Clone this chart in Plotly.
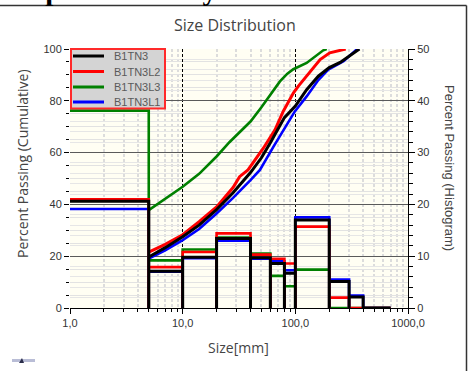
import plotly.graph_objects as go

# ---- data -------------------------------------------------------------
series_names = ["B1TN3", "B1TN3L2", "B1TN3L3", "B1TN3L1"]
series_colors = ["#000000", "#ff0000", "#008000", "#0000ff"]

# histogram bin edges [mm]
bin_edges = [1, 5, 10, 20, 40, 60, 80, 100, 200, 300, 400, 700]

# percent retained per bin (right axis)
hist_b1tn3 = [20.6, 7.1, 9.8, 13.4, 9.7, 8.6, 6.7, 17.0, 5.1, 2.1, 0.0]
hist_b1tn3l2 = [21.0, 7.9, 10.8, 14.4, 10.3, 9.5, 8.6, 15.7, 2.0, 0.0, 0.0]
hist_b1tn3l3 = [38.1, 9.2, 11.3, 13.6, 10.5, 6.2, 4.2, 7.4, 0.0, 0.0, 0.0]
hist_b1tn3l1 = [19.1, 7.0, 9.6, 13.0, 9.5, 9.0, 7.3, 17.5, 5.5, 2.4, 0.0]

# cumulative passing curves (left axis)
cum_size_b1tn3 = [5, 7, 10, 14, 20, 28, 40, 50, 60, 70, 80, 100, 126, 160, 200, 250, 300, 350, 370]
cum_b1tn3 = [19.7, 23.3, 27.5, 32.0, 38.0, 44.5, 52.3, 58.0, 63.8, 69.0, 73.5, 78.0, 84.3, 89.5, 92.8, 94.8, 97.2, 99.5, 100.0]

cum_size_b1tn3l2 = [5, 7, 10, 14, 20, 28, 32, 38, 52, 66, 78, 96, 106, 126, 166, 202, 250, 280]
cum_b1tn3l2 = [21.6, 24.6, 28.3, 33.3, 39.0, 46.5, 50.7, 53.3, 61.7, 68.8, 75.9, 83.0, 85.6, 89.5, 95.9, 98.5, 99.6, 100.0]

cum_size_b1tn3l3 = [5, 7, 10, 14, 20, 26, 32, 40, 50, 60, 73, 85, 96, 126, 150, 177, 190]
cum_b1tn3l3 = [37.8, 42.0, 46.8, 51.8, 58.5, 64.0, 68.0, 72.0, 77.5, 82.5, 87.5, 90.5, 92.2, 94.6, 97.0, 99.5, 100.0]

cum_size_b1tn3l1 = [5, 7, 10, 14, 20, 28, 40, 48.5, 64, 80, 99, 126, 160, 196, 268, 350, 370]
cum_b1tn3l1 = [19.1, 22.3, 26.2, 30.5, 36.5, 42.5, 49.4, 53.3, 62.3, 69.5, 75.9, 81.7, 88.0, 92.0, 95.3, 99.8, 100.0]

hist_values = [hist_b1tn3, hist_b1tn3l2, hist_b1tn3l3, hist_b1tn3l1]
cum_sizes = [cum_size_b1tn3, cum_size_b1tn3l2, cum_size_b1tn3l3, cum_size_b1tn3l1]
cum_values = [cum_b1tn3, cum_b1tn3l2, cum_b1tn3l3, cum_b1tn3l1]

# ---- geometry helpers for decorations outside the plot area -----------
W, H = 469, 371
ML, MR, MT, MB = 70, 61, 49, 63
PW, PH = W - ML - MR, H - MT - MB


def px_x(px):
    return (px - ML) / PW


def px_y(py):
    return 1 - (py - MT) / PH


def bar_outline(edges, heights):
    """Step outline of a histogram: tops plus edges dropping to zero."""
    xs, ys = [edges[0]], [heights[0]]
    for i, h in enumerate(heights):
        xs.append(edges[i + 1]); ys.append(h)
        xs.append(edges[i + 1]); ys.append(0)
        if i + 1 < len(heights):
            xs.append(edges[i + 1]); ys.append(heights[i + 1])
    return xs, ys


fig = go.Figure()

# cumulative curves (drawn blue, green, red, black so black sits on top)
for k in [3, 2, 1, 0]:
    fig.add_trace(go.Scatter(
        x=cum_sizes[k], y=cum_values[k], mode="lines", name=series_names[k],
        line=dict(color=series_colors[k], width=3 if k in (0, 1) else 2.6),
        yaxis="y", showlegend=False,
    ))

# histogram outlines on the right axis
for k in [2, 3, 1, 0]:
    hx, hy = bar_outline(bin_edges, hist_values[k])
    fig.add_trace(go.Scatter(
        x=hx, y=hy, mode="lines", name=series_names[k],
        line=dict(color=series_colors[k], width=3 if k == 0 else 2.6),
        yaxis="y2", showlegend=False, hoverinfo="skip",
    ))

tick_font = dict(family="Liberation Sans, Arial", size=11, color="#333333")
title_font = dict(family="Open Sans, Noto Sans", size=14, color="#444444")

fig.update_layout(
    width=W, height=H,
    margin=dict(l=ML, r=MR, t=MT, b=MB),
    paper_bgcolor="white",
    plot_bgcolor="#fffef3",
    separators=", ",
    showlegend=False,
    xaxis=dict(
        type="log", range=[0, 3], dtick=1, tickformat=".1f",
        tickfont=tick_font, ticks="outside", ticklen=5, tickcolor="#000",
        showline=True, linecolor="#000", linewidth=1,
        showgrid=True, gridcolor="#000000", gridwidth=1, griddash="3px,2px",
        minor=dict(showgrid=True, gridcolor="#dcdcdc", gridwidth=1.5,
                   ticks="outside", ticklen=3, tickcolor="#000"),
        zeroline=False,
    ),
    yaxis=dict(
        range=[0, 100], dtick=20, tickfont=tick_font,
        ticks="outside", ticklen=5, tickcolor="#000",
        showline=False,
        showgrid=True, gridcolor="#5a5a5a", gridwidth=1,
        minor=dict(dtick=5, showgrid=True, gridcolor="#e2e2e2", gridwidth=1,
                   ticks="outside", ticklen=3, tickcolor="#000"),
        zeroline=False,
    ),
    yaxis2=dict(
        range=[0, 50], dtick=10, overlaying="y", side="right",
        tickfont=tick_font, ticks="outside", ticklen=6, tickcolor="#000",
        showline=True, linecolor="#000", linewidth=1,
        showgrid=False,
        minor=dict(dtick=2, showgrid=True, gridcolor="#e6e6e6", gridwidth=1,
                   ticks="outside", ticklen=4, tickcolor="#000"),
        zeroline=False,
    ),
)

annotations = [
    dict(text="Size Distribution", x=px_x(235), y=px_y(25), xref="paper", yref="paper",
         xanchor="center", yanchor="middle", showarrow=False, font=dict(title_font, size=16)),
    dict(text="Size[mm]", x=px_x(238), y=px_y(347), xref="paper", yref="paper",
         xanchor="center", yanchor="middle", showarrow=False, font=title_font),
    dict(text="Percent Passing (Cumulative)", x=px_x(22), y=px_y(164), xref="paper", yref="paper",
         xanchor="center", yanchor="middle", textangle=-90, showarrow=False, font=title_font),
    dict(text="Percent Passing (Histogram)", x=px_x(450), y=px_y(168), xref="paper", yref="paper",
         xanchor="center", yanchor="middle", textangle=90, showarrow=False,
         font=dict(family="Liberation Sans, Arial", size=13, color="#444444")),
    dict(text="<b>Output Summary</b>", x=px_x(-5), y=px_y(-10), xref="paper", yref="paper",
         xanchor="left", yanchor="middle", showarrow=False,
         font=dict(family="Liberation Serif, Times New Roman", size=29, color="#000")),
]

shapes = [
    # frame around the chart (top and right edges)
    dict(type="line", xref="paper", yref="paper", x0=px_x(0), x1=px_x(466.5),
         y0=px_y(5.5), y1=px_y(5.5), line=dict(color="#333", width=1.5)),
    dict(type="line", xref="paper", yref="paper", x0=px_x(466.5), x1=px_x(466.5),
         y0=px_y(5.5), y1=px_y(372), line=dict(color="#333", width=1.5)),
    # small logo mark
    dict(type="rect", xref="paper", yref="paper", x0=px_x(12), x1=px_x(35),
         y0=px_y(362), y1=px_y(359), fillcolor="#b9bdd6", line=dict(width=0)),
    dict(type="path", xref="paper", yref="paper",
         path=f"M {px_x(19)},{px_y(363)} L {px_x(24)},{px_y(363)} L {px_x(22)},{px_y(358)} Z",
         fillcolor="#2a2d4a", line=dict(width=0)),
    # legend box
    dict(type="rect", xref="paper", yref="paper", x0=px_x(71), x1=px_x(165),
         y0=px_y(49), y1=px_y(108.5), fillcolor="#d4d4d4",
         line=dict(color="#ff2a2a", width=2), layer="above"),
]

# legend rows: line sample + name
legend_rows_y = [56, 71.5, 87, 102]
for name, color, ry in zip(series_names, series_colors, legend_rows_y):
    shapes.append(dict(type="line", xref="paper", yref="paper",
                       x0=px_x(73), x1=px_x(104), y0=px_y(ry), y1=px_y(ry),
                       line=dict(color=color, width=3), layer="above"))
    annotations.append(dict(text=name, x=px_x(112), y=px_y(ry), xref="paper", yref="paper",
                            xanchor="left", yanchor="middle", showarrow=False,
                            font=dict(family="Liberation Sans, Arial", size=11, color="#5a5a5a")))

fig.update_layout(annotations=annotations, shapes=shapes)

fig.write_html("out.html")
